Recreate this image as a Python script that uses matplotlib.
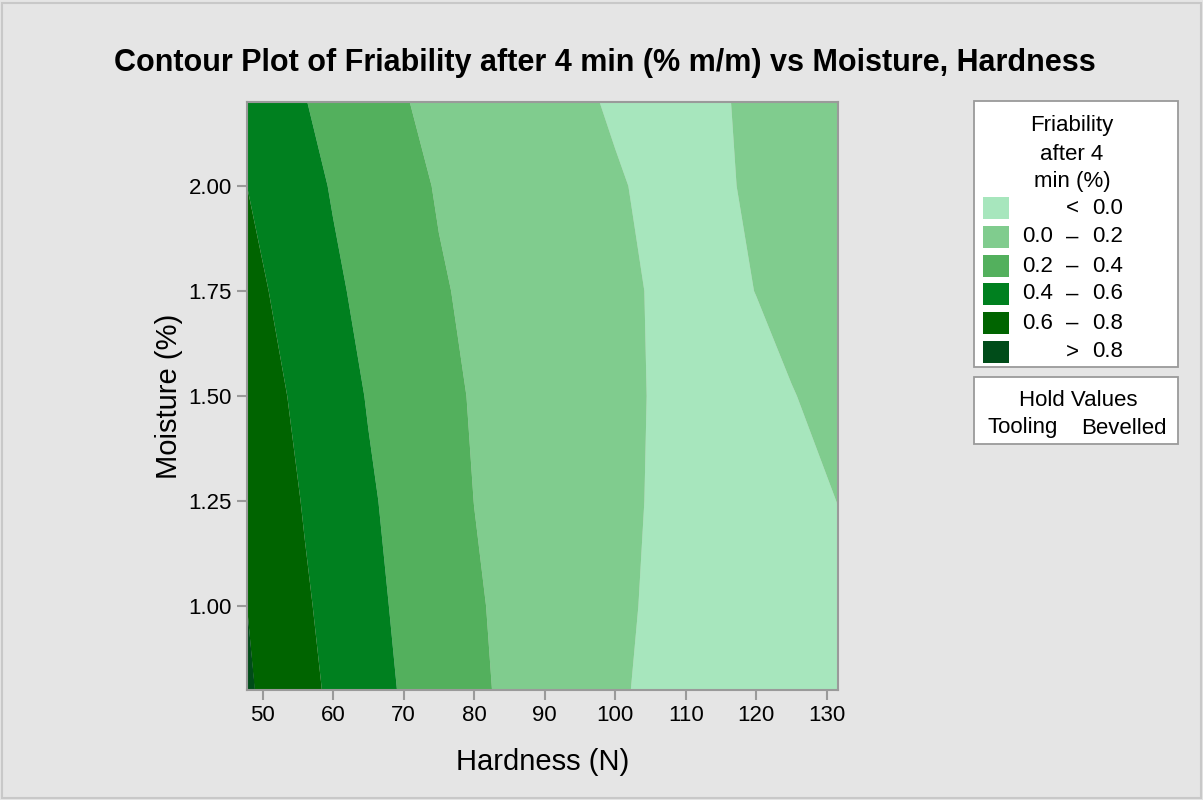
import numpy as np
import matplotlib
matplotlib.use("Agg")
import matplotlib.pyplot as plt
from matplotlib.patches import Rectangle

plt.rcParams['font.family'] = ['Liberation Sans', 'DejaVu Sans']

# ---- data ----
hardness = [47.8, 52, 56, 60, 65, 70, 75, 80, 85, 90, 95, 100, 105, 110, 115, 120, 125, 131.6]
moisture = [0.8, 1.0, 1.25, 1.5, 1.75, 2.0, 2.2]
friability = [
    [0.823, 0.734, 0.649, 0.568, 0.474, 0.383, 0.307, 0.231, 0.170, 0.120, 0.070, 0.020, -0.025, -0.055, -0.070, -0.070, -0.060, -0.040],
    [0.800, 0.709, 0.622, 0.543, 0.449, 0.365, 0.291, 0.218, 0.165, 0.120, 0.075, 0.029, -0.015, -0.045, -0.060, -0.060, -0.045, -0.020],
    [0.765, 0.673, 0.587, 0.514, 0.422, 0.345, 0.272, 0.199, 0.158, 0.117, 0.075, 0.034, -0.007, -0.035, -0.045, -0.040, -0.025, 0.001],
    [0.723, 0.629, 0.552, 0.479, 0.390, 0.319, 0.247, 0.187, 0.149, 0.110, 0.072, 0.034, -0.004, -0.025, -0.030, -0.020, -0.004, 0.030],
    [0.660, 0.578, 0.504, 0.430, 0.353, 0.284, 0.215, 0.172, 0.136, 0.100, 0.064, 0.029, -0.006, -0.020, -0.015, 0.001, 0.030, 0.070],
    [0.600, 0.526, 0.455, 0.387, 0.317, 0.247, 0.188, 0.153, 0.118, 0.082, 0.047, 0.012, -0.020, -0.025, -0.012, 0.015, 0.045, 0.090],
    [0.550, 0.476, 0.405, 0.348, 0.277, 0.207, 0.167, 0.130, 0.093, 0.056, 0.019, -0.015, -0.030, -0.030, -0.008, 0.020, 0.050, 0.095],
]
levels = [-1.0, 0.0, 0.2, 0.4, 0.6, 0.8, 2.0]
legend_labels = ["<  0.0", "0.0  \u2013  0.2", "0.2  \u2013  0.4", "0.4  \u2013  0.6", "0.6  \u2013  0.8", ">  0.8"]
colors = ["#A7E6BD", "#80CC8E", "#53B05D", "#00801F", "#006400", "#004C19"]
x_ticks = [50, 60, 70, 80, 90, 100, 110, 120, 130]
y_ticks = [1.00, 1.25, 1.50, 1.75, 2.00]

bg = "#E5E5E5"
fig = plt.figure(figsize=(12.03, 8.0), dpi=100, facecolor=bg)
fig.patches.append(Rectangle((0.002, 0.002), 0.996, 0.994, transform=fig.transFigure,
                             fill=False, edgecolor="#C8C8C8", lw=1.5))

ax = fig.add_axes([247/1203, 1-690/800, (838-247)/1203, (690-102)/800])
H, M = np.meshgrid(hardness, moisture)
Z = np.array(friability)
ax.contourf(H, M, Z, levels=levels, colors=colors, antialiased=True)
ax.set_xlim(hardness[0], hardness[-1])
ax.set_ylim(moisture[0], moisture[-1])
ax.set_facecolor(bg)

ax.set_xticks(x_ticks)
ax.set_yticks(y_ticks)
ax.set_yticklabels([f"{v:.2f}" for v in y_ticks])
ax.tick_params(axis='both', direction='out', length=7, width=1.5, color="#9A9A9A",
               labelsize=16, pad=4, labelcolor="black")
for s in ax.spines.values():
    s.set_color("#9A9A9A")
    s.set_linewidth(1.5)

ax.set_xlabel("Hardness (N)", fontsize=21, labelpad=16)
ax.set_ylabel("Moisture (%)", fontsize=21, labelpad=4)

fig.text(605/1203, 1-63/800, "Contour Plot of Friability after 4 min (% m/m) vs Moisture, Hardness",
         ha='center', va='center', fontsize=22, fontweight='bold')

# ---- legend boxes ----
def fx(px):
    return px / 1203
def fy(py):
    return 1 - py / 800

fig.patches.append(Rectangle((fx(974), fy(367)), fx(1178) - fx(974), fy(101) - fy(367),
                             transform=fig.transFigure, facecolor="white", edgecolor="#9A9A9A", lw=1.3))
fig.patches.append(Rectangle((fx(974), fy(444)), fx(1178) - fx(974), fy(377) - fy(444),
                             transform=fig.transFigure, facecolor="white", edgecolor="#9A9A9A", lw=1.3))

fs = 16
for txt, py in [("Friability", 126), ("after 4", 154), ("min (%)", 182)]:
    fig.text(fx(1072), fy(py), txt, ha='center', va='center', fontsize=fs)

row_y = [208, 237, 266, 294, 323, 352]
for i, (lab, col) in enumerate(zip(legend_labels, colors)):
    py = row_y[i]
    fig.patches.append(Rectangle((fx(983), fy(py + 11)), fx(1009) - fx(983), fy(py - 11) - fy(py + 11),
                                 transform=fig.transFigure, facecolor=col, edgecolor='none'))
    if i == 0 or i == len(colors) - 1:
        sym = "<" if i == 0 else ">"
        val = "0.0" if i == 0 else "0.8"
        fig.text(fx(1072), fy(py), sym, ha='center', va='center', fontsize=fs)
        fig.text(fx(1123), fy(py), val, ha='right', va='center', fontsize=fs)
    else:
        a, b = lab.split("\u2013")
        fig.text(fx(1022), fy(py), a.strip(), ha='left', va='center', fontsize=fs)
        fig.text(fx(1072), fy(py), "\u2013", ha='center', va='center', fontsize=fs)
        fig.text(fx(1123), fy(py), b.strip(), ha='right', va='center', fontsize=fs)

fig.text(fx(1078), fy(401), "Hold Values", ha='center', va='center', fontsize=fs)
fig.text(fx(987), fy(428), "Tooling", ha='left', va='center', fontsize=fs)
fig.text(fx(1167), fy(428), "Bevelled", ha='right', va='center', fontsize=fs)

fig.savefig("out.png", dpi=100, facecolor=bg)
